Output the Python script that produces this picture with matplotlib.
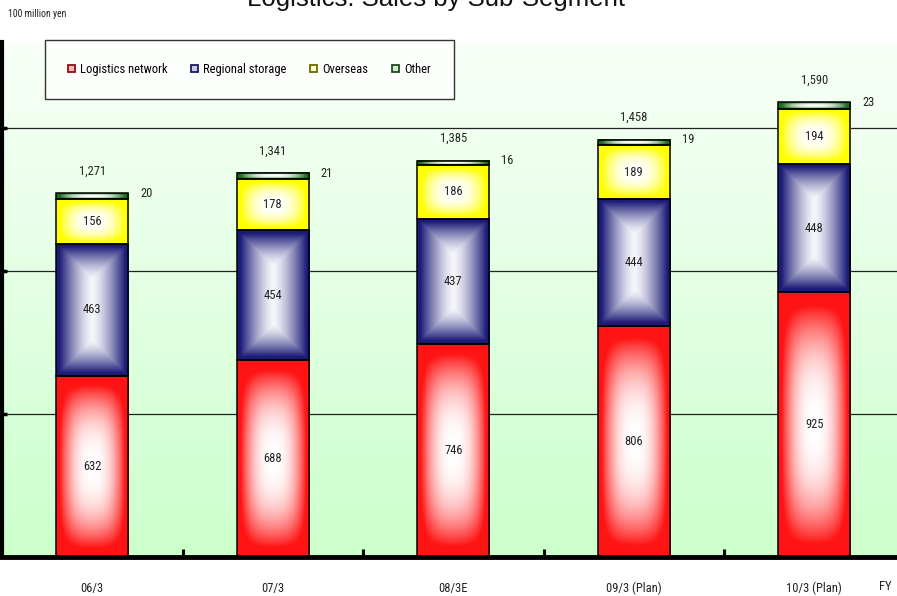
import numpy as np
import matplotlib
matplotlib.use("Agg")
import matplotlib.pyplot as plt
from matplotlib import font_manager
from matplotlib.patches import Rectangle, Patch
from matplotlib.colors import to_rgb

# ---- data (100 million yen) ----
categories = ["06/3", "07/3", "08/3E", "09/3 (Plan)", "10/3 (Plan)"]
logistics_network = [632, 688, 746, 806, 925]
regional_storage = [463, 454, 437, 444, 448]
overseas = [156, 178, 186, 189, 194]
other = [20, 21, 16, 19, 23]
totals = [1271, 1341, 1385, 1458, 1590]

series_names = ["Logistics network", "Regional storage", "Overseas", "Other"]
series_values = [logistics_network, regional_storage, overseas, other]
edge_colors = ["#ff1414", "#1b1b78", "#ffff00", "#1d6b1d"]
center_colors = ["#ffffff", "#f6f6fb", "#ffffff", "#ffffff"]
fill_style = ["soft", "frame", "soft", "soft"]
legend_faces = ["#f7b5b5", "#c9c9e6", "#ffffd0", "#cfe8cf"]
legend_edges = ["#8a1010", "#1b1b60", "#6b6b00", "#1d4d1d"]


def pick_font(candidates):
    names = {f.name for f in font_manager.fontManager.ttflist}
    for c in candidates:
        if c in names:
            return c
    return "DejaVu Sans"


narrow = pick_font(["Liberation Sans Narrow", "Arial Narrow", "Roboto Condensed",
                    "Liberation Sans"])
regular = pick_font(["Liberation Sans", "Arial"])

W, H, DPI = 897, 596, 100
fig = plt.figure(figsize=(W / DPI, H / DPI), dpi=DPI)
ax_left, ax_bottom, ax_w, ax_h = 2, 39, 895, 515
ax = fig.add_axes([ax_left / W, ax_bottom / H, ax_w / W, ax_h / H])

x_min, x_max = -0.5, -0.5 + ax_w / 180.5
y_min, y_max = 0, 1800
ax.set_xlim(x_min, x_max)
ax.set_ylim(y_min, y_max)

px_per_x = ax_w / (x_max - x_min)
px_per_y = ax_h / (y_max - y_min)

# background: pale green fading to near white at the top
bg = np.linspace(0, 1, 256)[:, None]
top_c = np.array(to_rgb("#f8fff8"))
bot_c = np.array(to_rgb("#ccffcc"))
bg_img = bot_c * (1 - bg[..., None]) + top_c * bg[..., None]
ax.imshow(bg_img, extent=[0, 1, 0, 1], transform=ax.transAxes, aspect="auto",
          origin="lower", zorder=0.1, interpolation="bilinear")

# horizontal grid lines
for gy in [500, 1000, 1500]:
    ax.axhline(gy, color="#222222", lw=0.9, zorder=1)


def center_gradient(w_px, h_px, edge, center, style):
    nx = max(int(round(w_px)) * 2, 4)
    ny = max(int(round(h_px)) * 2, 4)
    xs = (np.arange(nx) + 0.5) / nx * w_px
    ys = (np.arange(ny) + 0.5) / ny * h_px
    if style == "frame":
        # bands of equal thickness following the outline
        dx = np.minimum(xs, w_px - xs)
        dy = np.minimum(ys, h_px - ys)
        d = np.minimum(dx[None, :], dy[:, None])
        s = min(w_px, h_px) / 2.0
        t = np.clip(1 - d / s, 0, 1)
        f = np.clip(t * 1.1, 0, 1) ** 1.4
    else:
        # light centre fading out towards every edge
        u = np.abs(xs / w_px * 2 - 1)
        v = np.abs(ys / h_px * 2 - 1)
        b = (1 - u ** 2.5)[None, :] * (1 - v ** 2.5)[:, None]
        f = np.clip((1 - b) * 1.3, 0, 1)
    e = np.array(to_rgb(edge))
    c = np.array(to_rgb(center))
    return c * (1 - f[..., None]) + e * f[..., None]


bar_w = 0.4
for i in range(len(categories)):
    bottom = 0
    for k, vals in enumerate(series_values):
        v = vals[i]
        x0 = i - bar_w / 2
        img = center_gradient(bar_w * px_per_x, v * px_per_y,
                              edge_colors[k], center_colors[k], fill_style[k])
        ax.imshow(img, extent=[x0, x0 + bar_w, bottom, bottom + v], aspect="auto",
                  origin="lower", zorder=2, interpolation="bilinear")
        ax.add_patch(Rectangle((x0, bottom), bar_w, v, fill=False,
                               edgecolor="black", lw=1.1, zorder=3))
        if k < 3:
            ax.text(i, bottom + v / 2, f"{v:,}", ha="center", va="center",
                    fontsize=9, family=narrow, color="#222222", zorder=4)
        else:
            ax.text(i + 0.265, bottom + v, f"{v:,}", ha="left", va="center",
                    fontsize=9, family=narrow, color="#222222", zorder=4)
        bottom += v
    ax.annotate(f"{totals[i]:,}", (i, totals[i]), xytext=(0, 16),
                textcoords="offset points", ha="center", va="center",
                fontsize=9, family=narrow, color="#222222", zorder=4)

# axes styling
for side in ["top", "right"]:
    ax.spines[side].set_visible(False)
ax.spines["left"].set_linewidth(3)
ax.spines["bottom"].set_linewidth(3.5)
ax.spines["left"].set_zorder(5)
ax.spines["bottom"].set_zorder(5)

ax.set_yticks([500, 1000, 1500])
ax.tick_params(axis="y", direction="inout", length=7, width=2.5, labelleft=False)
ax.set_xticks(range(len(categories)))
ax.set_xticklabels(categories, family=narrow, fontsize=9, color="#222222")
ax.tick_params(axis="x", length=0, pad=18)
ax.set_xticks([0.5, 1.5, 2.5, 3.5], minor=True)
ax.tick_params(axis="x", which="minor", direction="in", length=6, width=2.2)

# legend
handles = [Patch(facecolor=legend_faces[k], edgecolor=legend_edges[k], lw=1.3,
                 label=series_names[k]) for k in range(4)]
leg = ax.legend(handles=handles, ncol=4, loc="upper left",
                bbox_to_anchor=(45 / W, 1 - 40 / H), bbox_transform=fig.transFigure,
                prop={"family": narrow, "size": 9}, frameon=True, fancybox=False,
                borderpad=1.85, handlelength=0.55, handleheight=0.55,
                handletextpad=0.4, columnspacing=1.9, borderaxespad=0)
leg.get_frame().set_edgecolor("black")
leg.get_frame().set_linewidth(1.0)
leg.get_frame().set_facecolor("white")
leg.set_zorder(6)

# text around the plot
fig.text(436 / W, 1 - 6 / H, "Logistics: Sales by Sub-Segment", ha="center",
         va="baseline", fontsize=18.5, family=regular, color="#111111")
fig.text(8 / W, 1 - 14 / H, "100 million yen", ha="left", va="center",
         fontsize=7, family=narrow, color="#222222")
fig.text(885 / W, 1 - 586 / H, "FY", ha="center", va="center",
         fontsize=9, family=narrow, color="#222222")

fig.savefig("out.png", dpi=DPI)
